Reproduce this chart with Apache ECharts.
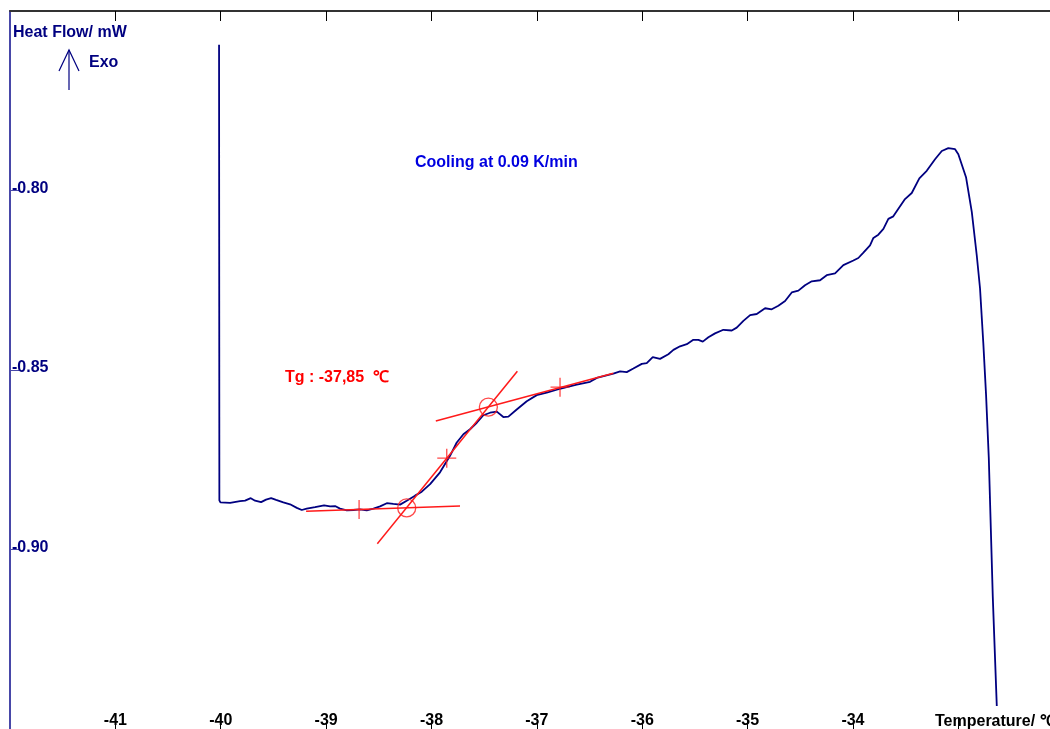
<!DOCTYPE html>
<html>
<head>
<meta charset="utf-8">
<script src="https://cdn.jsdelivr.net/npm/echarts@6/dist/echarts.min.js"></script>
<style>
html,body{margin:0;padding:0;background:#fff;}
#chart{width:1050px;height:729px;}
</style>
</head>
<body>
<div id="chart"></div>
<script>
// Temperature / °C (x) and heat flow / mW (y) of the DSC trace
const temperature = [
  -40.016, -40.013, -40.003, -39.911, -39.817, -39.769, -39.715, -39.674, -39.617, -39.570,
  -39.522, -39.475, -39.406, -39.342, -39.278, -39.231, -39.184, -39.105, -39.019, -38.962,
  -38.915, -38.868, -38.804, -38.741, -38.678, -38.614, -38.551, -38.488, -38.424, -38.362,
  -38.298, -38.235, -38.156, -38.092, -38.013, -37.919, -37.824, -37.760, -37.697, -37.634,
  -37.570, -37.508, -37.444, -37.380, -37.318, -37.270, -37.191, -37.096, -37.001, -36.906,
  -36.811, -36.716, -36.621, -36.495, -36.431, -36.274, -36.210, -36.147, -36.084, -36.004,
  -35.957, -35.900, -35.831, -35.752, -35.704, -35.641, -35.577, -35.515, -35.467, -35.425,
  -35.372, -35.309, -35.230, -35.150, -35.103, -35.040, -34.976, -34.913, -34.834, -34.771,
  -34.708, -34.644, -34.581, -34.518, -34.455, -34.391, -34.312, -34.249, -34.170, -34.091,
  -33.996, -33.949, -33.901, -33.838, -33.806, -33.759, -33.711, -33.664, -33.617, -33.569,
  -33.506, -33.442, -33.370, -33.300, -33.221, -33.157, -33.095, -33.031, -33.000, -32.927,
  -32.872, -32.825, -32.794, -32.762, -32.737, -32.711, -32.692, -32.673, -32.635
];
const heatFlow = [
  -0.7594, -0.8863, -0.8869, -0.8870, -0.8865, -0.8864, -0.8857, -0.8864, -0.8868, -0.8861,
  -0.8857, -0.8862, -0.8869, -0.8874, -0.8884, -0.8890, -0.8886, -0.8882, -0.8877, -0.8880,
  -0.8879, -0.8886, -0.8891, -0.8890, -0.8888, -0.8891, -0.8886, -0.8880, -0.8871, -0.8873,
  -0.8875, -0.8864, -0.8850, -0.8839, -0.8818, -0.8785, -0.8739, -0.8702, -0.8679, -0.8665,
  -0.8647, -0.8626, -0.8619, -0.8616, -0.8631, -0.8630, -0.8610, -0.8587, -0.8570, -0.8563,
  -0.8555, -0.8548, -0.8541, -0.8533, -0.8522, -0.8510, -0.8504, -0.8506, -0.8496, -0.8483,
  -0.8481, -0.8464, -0.8469, -0.8456, -0.8444, -0.8434, -0.8428, -0.8416, -0.8416, -0.8421,
  -0.8409, -0.8398, -0.8388, -0.8390, -0.8382, -0.8363, -0.8347, -0.8344, -0.8328, -0.8331,
  -0.8321, -0.8308, -0.8284, -0.8279, -0.8264, -0.8253, -0.8250, -0.8236, -0.8231, -0.8208,
  -0.8195, -0.8188, -0.8173, -0.8153, -0.8132, -0.8123, -0.8107, -0.8079, -0.8072, -0.8051,
  -0.8024, -0.8007, -0.7966, -0.7945, -0.7913, -0.7890, -0.7882, -0.7885, -0.7899, -0.7963,
  -0.8060, -0.8181, -0.8273, -0.8430, -0.8568, -0.8744, -0.8938, -0.9132, -0.9436
];

// Tg construction (tangent lines, onset/end circles, crosses)
const lowerTangent = [[-39.190, -0.88934], [-37.729, -0.88787]];
const steepTangent = [[-38.514, -0.89839], [-37.185, -0.85036]];
const upperTangent = [[-37.959, -0.86421], [-36.274, -0.85092]];
const tgCircles = [[-38.235, -0.88842], [-37.460, -0.86033]];
const tgCrosses = [[-38.687, -0.88887], [-37.855, -0.87457], [-36.780, -0.85479]];

// Axis ticks and labels
const xTicks = [-41, -40, -39, -38, -37, -36, -35, -34, -33];
const xLabels = [-41, -40, -39, -38, -37, -36, -35, -34];
const yTicks = [-0.80, -0.85, -0.90];

const FONT = '"Liberation Sans", Arial, sans-serif';
const NAVY = '#000080';
const RED = '#ff1a1a';

const curve = temperature.map((t, i) => [t, heatFlow[i]]);

const chart = echarts.init(document.getElementById('chart'), null, {renderer: 'canvas'});
chart.setOption({
  animation: false,
  backgroundColor: '#fff',
  grid: {left: 10, top: 11, width: 1040, height: 722, containLabel: false},
  xAxis: [
    {
      type: 'value', position: 'bottom', min: -42, max: -32.13, interval: 1,
      axisLine: {show: false},
      splitLine: {show: false},
      axisTick: {show: true, inside: true, length: 10, customValues: xTicks,
                 lineStyle: {color: '#000', width: 1}},
      axisLabel: {show: true, inside: true, margin: 0, customValues: xLabels,
                  color: '#000', fontFamily: FONT, fontWeight: 'bold', fontSize: 16,
                  formatter: v => String(v)}
    },
    {
      type: 'value', position: 'top', min: -42, max: -32.13, interval: 1,
      axisLine: {show: true, onZero: false, lineStyle: {color: '#333', width: 2}},
      splitLine: {show: false},
      axisTick: {show: true, inside: true, length: 10, customValues: xTicks,
                 lineStyle: {color: '#000', width: 1}},
      axisLabel: {show: false}
    }
  ],
  yAxis: {
    type: 'value', min: -0.95, max: -0.75,
    axisLine: {show: true, onZero: false, lineStyle: {color: '#4848a8', width: 2}},
    splitLine: {show: false},
    axisTick: {show: true, inside: true, length: 9, customValues: yTicks,
               lineStyle: {color: '#4848a8', width: 1}},
    axisLabel: {show: true, inside: true, margin: 2, customValues: yTicks,
                color: NAVY, fontFamily: FONT, fontWeight: 'bold', fontSize: 16,
                verticalAlign: 'bottom', padding: [0, 0, -6, 0],
                formatter: v => v.toFixed(2)}
  },
  series: [
    {
      type: 'line', data: curve, showSymbol: false, symbol: 'none',
      lineStyle: {color: NAVY, width: 1.8}, z: 3
    },
    {type: 'line', data: lowerTangent, symbol: 'none', lineStyle: {color: RED, width: 1.5}, z: 4},
    {type: 'line', data: steepTangent, symbol: 'none', lineStyle: {color: RED, width: 1.5}, z: 4},
    {type: 'line', data: upperTangent, symbol: 'none', lineStyle: {color: RED, width: 1.5}, z: 4},
    {
      type: 'scatter', data: tgCircles, symbol: 'circle', symbolSize: 18,
      itemStyle: {color: 'rgba(0,0,0,0)', borderColor: RED, borderWidth: 1.3}, z: 5
    },
    {
      type: 'scatter', data: tgCrosses, symbol: 'path://M10,0L10,20M0,10L20,10', symbolSize: 19,
      itemStyle: {color: 'rgba(0,0,0,0)', borderColor: RED, borderWidth: 1.3}, z: 5
    }
  ],
  graphic: [
    {type: 'text', left: 13, top: 25, style: {text: 'Heat Flow/ mW', fill: NAVY, font: 'bold 16px ' + FONT}},
    {type: 'polyline', shape: {points: [[69, 90], [69, 50]]}, style: {stroke: NAVY, lineWidth: 1.2, fill: null}},
    {type: 'polyline', shape: {points: [[59, 71], [69, 50], [79, 71]]}, style: {stroke: NAVY, lineWidth: 1.2, fill: null}},
    {type: 'text', left: 89, top: 55, style: {text: 'Exo', fill: NAVY, font: 'bold 16px ' + FONT}},
    {type: 'text', left: 415, top: 155, style: {text: 'Cooling at 0.09 K/min', fill: '#0000e0', font: 'bold 16px ' + FONT}},
    {type: 'text', left: 285, top: 370, style: {text: 'Tg : -37,85  \u2103', fill: '#ff0000', font: 'bold 16px ' + FONT}},
    {type: 'text', left: 935, top: 714, style: {text: 'Temperature/ \u2103', fill: '#000', font: 'bold 16px ' + FONT}}
  ]
});
</script>
</body>
</html>
